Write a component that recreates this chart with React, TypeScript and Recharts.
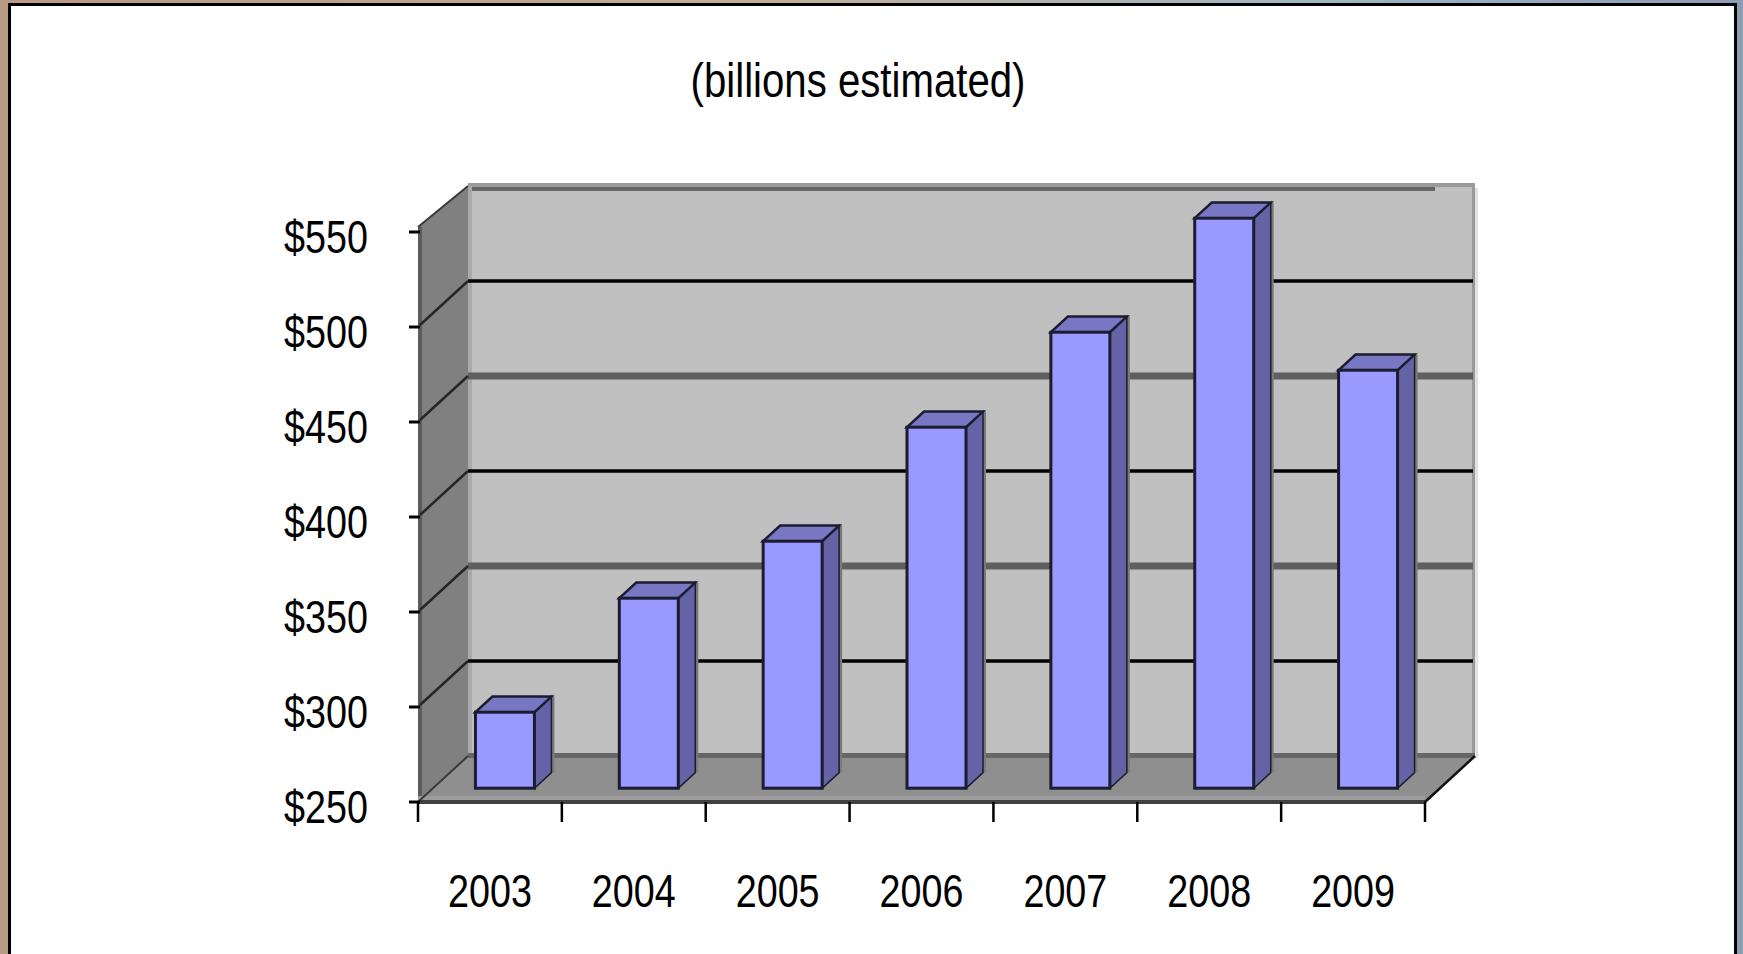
import React from "react";
import { Bar, BarChart, CartesianGrid, XAxis, YAxis } from "recharts";

// chart values
const years = ["2003", "2004", "2005", "2006", "2007", "2008", "2009"];
const spending = [290, 350, 380, 440, 490, 550, 470];
const yTicks = [250, 300, 350, 400, 450, 500, 550];
const chartTitle = "(billions estimated)";

const data = years.map((year, i) => ({ year, value: spending[i] }));

// no narrow font installed, so Liberation Sans is squeezed horizontally
const FONT = '"Liberation Sans", Arial, sans-serif';
const NARROW = 0.82;

// depth of the fake 3D box (towards upper right)
const DX = 50;
const DY = -46;

function NarrowText(props: {
  x: number;
  y: number;
  size: number;
  anchor: "start" | "middle" | "end";
  children: React.ReactNode;
}) {
  const { x, y, size, anchor, children } = props;
  return (
    <g transform={`translate(${x},${y}) scale(${NARROW},1)`}>
      <text x={0} y={0} textAnchor={anchor} fontFamily={FONT} fontSize={size} fill="#000">
        {children}
      </text>
    </g>
  );
}

function WallsAndGrid(props: any) {
  const { x1, x2, y1, index, x, y, width, height } = props;
  const L = x ?? x1;
  const R = x != null && width != null ? x + width : x2;
  const T = y ?? 232;
  const B = y != null && height != null ? y + height : 802;
  const lo = yTicks[0];
  const hi = yTicks[yTicks.length - 1];
  const value = Math.round(lo + ((B - y1) / (B - T)) * (hi - lo));
  const step = Math.round((value - lo) / 50);

  let line: React.ReactNode = null;
  if (value > lo && value < hi) {
    const black = step % 2 === 1;
    line = (
      <g>
        <line
          x1={x1 + DX}
          y1={y1 + DY}
          x2={x2 + DX - 2}
          y2={y1 + DY}
          stroke={black ? "#000" : "#5f5f5f"}
          strokeWidth={black ? 3.5 : 7}
        />
        <line
          x1={x1 + 2}
          y1={y1 - 2}
          x2={x1 + DX}
          y2={y1 + DY}
          stroke="#262626"
          strokeWidth={2.5}
        />
      </g>
    );
  }

  if (index !== 0) return <g key={`gl-${index}`}>{line}</g>;

  return (
    <g key={`gl-${index}`}>
      {/* back wall */}
      <rect x={L + DX} y={T + DY} width={R - L} height={B - T} fill="#c0c0c0" />
      <rect x={L + DX} y={T + DY - 3} width={R - L} height={4} fill="#9a9a9a" />
      <rect x={L + DX} y={T + DY + 1} width={R - L - 40} height={4} fill="#666" />
      <rect x={L + DX} y={T + DY} width={4} height={B - T} fill="#a9a9a9" />
      <rect x={R + DX - 3} y={T + DY} width={3} height={B - T} fill="#999" />
      <rect x={R + DX} y={T + DY + 2} width={3} height={B - T} fill="#e2e2e2" />
      {/* left side wall */}
      <polygon
        points={`${L},${T - 5} ${L + DX},${T + DY} ${L + DX},${B + DY} ${L},${B}`}
        fill="#808080"
      />
      <rect x={L} y={T - 5} width={4} height={B - T + 5} fill="#5c5c5c" />
      <line x1={L} y1={T - 5} x2={L + DX} y2={T + DY} stroke="#3a3a3a" strokeWidth={2} />
      {/* floor */}
      <polygon
        points={`${L},${B} ${R},${B} ${R + DX},${B + DY} ${L + DX},${B + DY}`}
        fill="#8f8f8f"
      />
      <rect x={L + DX} y={B + DY - 3} width={R - L} height={5} fill="#666" />
      <rect x={L} y={B - 6} width={R - L} height={4} fill="#9c9c9c" />
      <rect x={L} y={B - 2} width={R - L} height={4} fill="#404040" />
      <line x1={L} y1={B} x2={L + DX} y2={B + DY} stroke="#3a3a3a" strokeWidth={2} />
      <line x1={R} y1={B} x2={R + DX} y2={B + DY} stroke="#111" strokeWidth={2.5} />
      {line}
    </g>
  );
}

function Bar3D(props: any) {
  const { x, y, width, height } = props;
  if (width == null || height == null) return null;
  const fx = x + DX * 0.3;
  const fy = y + DY * 0.3;
  const bx = DX * 0.34;
  const by = DY * 0.34;
  const w = width;
  const h = height;
  const edge = "#1c1c30";
  return (
    <g>
      {/* shadow strip right of the side face */}
      <rect x={fx + w + bx} y={fy + by} width={3} height={h} fill="#7a7a7a" />
      <polygon
        points={`${fx + w},${fy} ${fx + w + bx},${fy + by} ${fx + w + bx},${fy + h + by} ${fx + w},${fy + h}`}
        fill="#6363a5"
        stroke={edge}
        strokeWidth={1.5}
      />
      <polygon
        points={`${fx},${fy} ${fx + bx},${fy + by} ${fx + w + bx},${fy + by} ${fx + w},${fy}`}
        fill="#7777c3"
        stroke={edge}
        strokeWidth={2.5}
      />
      <rect x={fx} y={fy} width={w} height={h} fill="#9999ff" stroke={edge} strokeWidth={3} />
    </g>
  );
}

function YTick(props: any) {
  const { x, y, payload } = props;
  return (
    <g>
      <line x1={x - 9} y1={y} x2={x + 2} y2={y} stroke="#000" strokeWidth={3} />
      <NarrowText x={x - 50} y={y + 21} size={46} anchor="end">
        {`$${payload.value}`}
      </NarrowText>
    </g>
  );
}

function XTick(props: any) {
  const { x, y, payload, index, visibleTicksCount } = props;
  const half = payload.offset || 71.9;
  const isLast = index === (visibleTicksCount ?? years.length) - 1;
  return (
    <g>
      <line x1={x - half} y1={y} x2={x - half} y2={y + 20} stroke="#000" strokeWidth={2.5} />
      {isLast && (
        <line x1={x + half} y1={y} x2={x + half} y2={y + 20} stroke="#000" strokeWidth={2.5} />
      )}
      <NarrowText x={x} y={y + 105} size={46} anchor="middle">
        {payload.value}
      </NarrowText>
    </g>
  );
}

export default function App() {
  return (
    <div
      style={{
        position: "fixed",
        left: 0,
        top: 0,
        width: 1743,
        height: 954,
        overflow: "hidden",
        background: "linear-gradient(90deg, #b79a84 0%, #c2ad98 45%, #9fb6c4 75%, #8b9db2 100%)",
      }}
    >
      <div
        style={{
          position: "absolute",
          left: 8,
          top: 3,
          width: 1729,
          height: 980,
          boxSizing: "border-box",
          border: "3px solid #000",
          background: "#fff",
        }}
      />
      <svg width={1743} height={954} style={{ position: "absolute", left: 0, top: 0 }}>
        <NarrowText x={858} y={97} size={49} anchor="middle">
          {chartTitle}
        </NarrowText>
      </svg>
      <div style={{ position: "absolute", left: 0, top: 0 }}>
        <BarChart
          width={1743}
          height={954}
          data={data}
          margin={{ top: 232, right: 318, bottom: 52, left: 358 }}
          barCategoryGap="29.5%"
        >
          <CartesianGrid vertical={false} horizontal={WallsAndGrid} />
          <XAxis
            dataKey="year"
            height={100}
            axisLine={false}
            tickLine={false}
            tickSize={0}
            tickMargin={0}
            tick={XTick}
            interval={0}
          />
          <YAxis
            type="number"
            domain={[250, 550]}
            ticks={yTicks}
            width={60}
            axisLine={false}
            tickLine={false}
            tickSize={0}
            tickMargin={0}
            tick={YTick}
            interval={0}
          />
          <Bar dataKey="value" shape={Bar3D} isAnimationActive={false} />
        </BarChart>
      </div>
    </div>
  );
}
